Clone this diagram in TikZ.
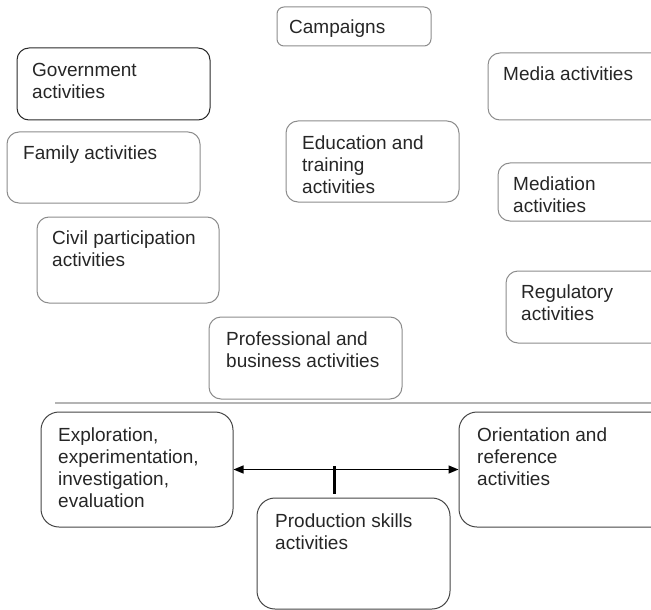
\documentclass[tikz,border=0pt]{standalone}
\usepackage{fontspec}
\setmainfont{Liberation Sans}
\usetikzlibrary{fit,arrows.meta}
\definecolor{lightbox}{HTML}{8C8C8C}
\definecolor{darkbox}{HTML}{2A2A2A}
\definecolor{midbox}{HTML}{454545}
\definecolor{sepgray}{HTML}{B4B4B4}
\tikzset{
  box/.style={draw=lightbox, line width=1bp, rounded corners=12bp, inner sep=0pt},
  bigbox/.style={draw=midbox, line width=1bp, rounded corners=18bp, inner sep=0pt},
  txt/.style={anchor=north west, inner sep=0pt, align=left, text=black!85,
    font=\fontsize{19bp}{22bp}\selectfont},
}
\begin{document}
\begin{tikzpicture}[x=1bp, y=-1bp]
\useasboundingbox (0,0) rectangle (651,610);
\clip (0,0) rectangle (651,610);
% top boxes
\node[box, rounded corners=7bp, fit={(277,7) (431,46)}] (camp) {};
\node[txt] (campt) at (289,20) {Campaigns};
\node[box, draw=darkbox, fit={(17,48) (210,120)}] (gov) {};
\node[txt] (govt) at (32,63) {Government\\activities};
\node[box, fit={(488,53) (680,120)}] (media) {};
\node[txt] (mediat) at (503,67) {Media activities};
\node[box, fit={(286,121) (459,202)}] (edu) {};
\node[txt] (edut) at (302,136) {Education and\\training\\activities};
\node[box, fit={(7,132) (200,203)}] (fam) {};
\node[txt] (famt) at (23,146) {Family activities};
\node[box, fit={(498,163) (680,221)}] (med) {};
\node[txt] (medt) at (513,177) {Mediation\\activities};
\node[box, fit={(37,217) (219,303)}] (civ) {};
\node[txt] (civt) at (52,231) {Civil participation\\activities};
\node[box, fit={(506,271) (680,343)}] (reg) {};
\node[txt] (regt) at (521,285) {Regulatory\\activities};
\node[box, fit={(209,317) (402,399)}] (prof) {};
\node[txt] (proft) at (226,332) {Professional and\\business activities};
% separator
\coordinate (sepl) at (55,403);
\coordinate (sepr) at (651,403);
\draw[sepgray, line width=1.5bp] (sepl) -- (sepr);
% bottom boxes
\node[bigbox, fit={(41,412) (233,527)}] (expl) {};
\node[txt] (explt) at (58,428) {Exploration,\\experimentation,\\investigation,\\evaluation};
\node[bigbox, fit={(459,412) (680,527)}] (orient) {};
\node[txt] (orientt) at (477,428) {Orientation and\\reference\\activities};
\node[bigbox, fit={(257,498) (450,609)}] (prod) {};
\node[txt] (prodt) at (275,514) {Production skills\\activities};
% connectors
\draw[black, line width=1.3bp, {Triangle[length=10bp,width=8bp]}-{Triangle[length=10bp,width=8bp]}] (expl.east) -- (orient.west);
\coordinate (bart) at (334,466);
\coordinate (barb) at (334,494);
\draw[black, line width=3bp] (bart) -- (barb);
\end{tikzpicture}
\end{document}
